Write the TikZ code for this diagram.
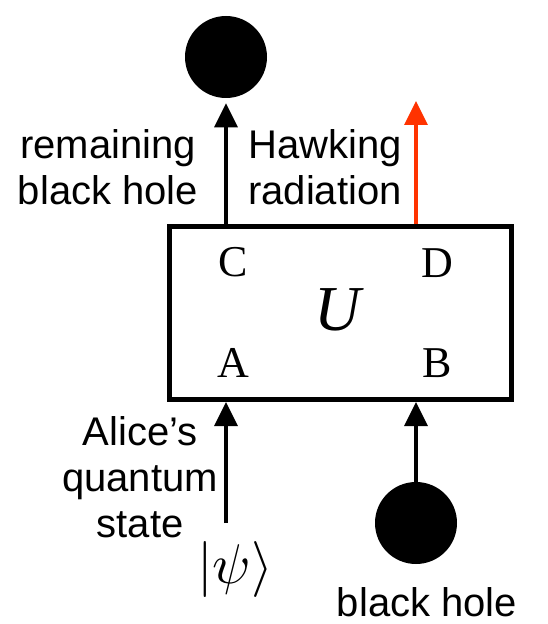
\documentclass[tikz,border=0pt]{standalone}
\usepackage{fontspec}
\setmainfont{Liberation Serif}
\setsansfont{Liberation Sans}
\usetikzlibrary{arrows.meta,positioning}
\definecolor{inkMain}{HTML}{000000}
\definecolor{hawkRed}{HTML}{FF3300}

\begin{document}
\begin{tikzpicture}[
    x=0.75pt, y=-0.75pt,
    >={Triangle[width=17pt,length=18pt]},
    gateBox/.style={
        rectangle, draw=inkMain, line width=3.75pt,
        minimum width=256.5pt, minimum height=129.75pt,
        inner sep=0pt
    },
    holeNode/.style={
        circle, fill=inkMain,
        minimum size=61.5pt, inner sep=0pt
    },
    portLabel/.style={font=\fontsize{33}{36}\selectfont, inner sep=0pt},
    caption/.style={font=\sffamily\fontsize{30}{34.5}\selectfont, align=center, inner sep=0pt},
    wire/.style={->, line width=3pt, draw=inkMain},
    hawkWire/.style={->, line width=3pt, draw=hawkRed}
]
\useasboundingbox (0,0) rectangle (548,624);

% Layout plan: the gate U in the middle, inputs A/B below, outputs C/D above.
\node[gateBox] (Gate) at (340.5,313) {};
\node[font=\itshape\fontsize{48}{52}\selectfont, inner sep=0pt] (Unitary) at (338,310) {U};
\node[portLabel] (PortC) at (233,262) {C};
\node[portLabel] (PortD) at (437,263) {D};
\node[portLabel] (PortA) at (233,363) {A};
\node[portLabel] (PortB) at (437,363) {B};

\node[holeNode] (RemHole) at (226,57) {};
\node[holeNode] (InHole) at (416,523) {};
\coordinate (RadTip) at (416,101);
\coordinate (PsiTail) at (226,523);

\node[scale=4.2, inner sep=0pt] (Psi) at (235,569) {$|\psi\rangle$};

\node[caption] (RemLabel) at (108,167) {remaining\\black hole};
\node[caption] (RadLabel) at (325,167) {Hawking\\radiation};
\node[caption] (AliceLabel) at (140,477) {Alice’s\\quantum\\state};
\node[caption] (HoleLabel) at (427,602) {black hole};

\draw[wire, shorten >=3.75pt] (Gate.north -| RemHole) -- (RemHole.south);
\draw[hawkWire] (Gate.north -| RadTip) -- (RadTip);
\draw[wire] (PsiTail) -- (Gate.south -| PsiTail);
\draw[wire] (InHole.north) -- (Gate.south -| InHole);

\end{tikzpicture}
\end{document}
